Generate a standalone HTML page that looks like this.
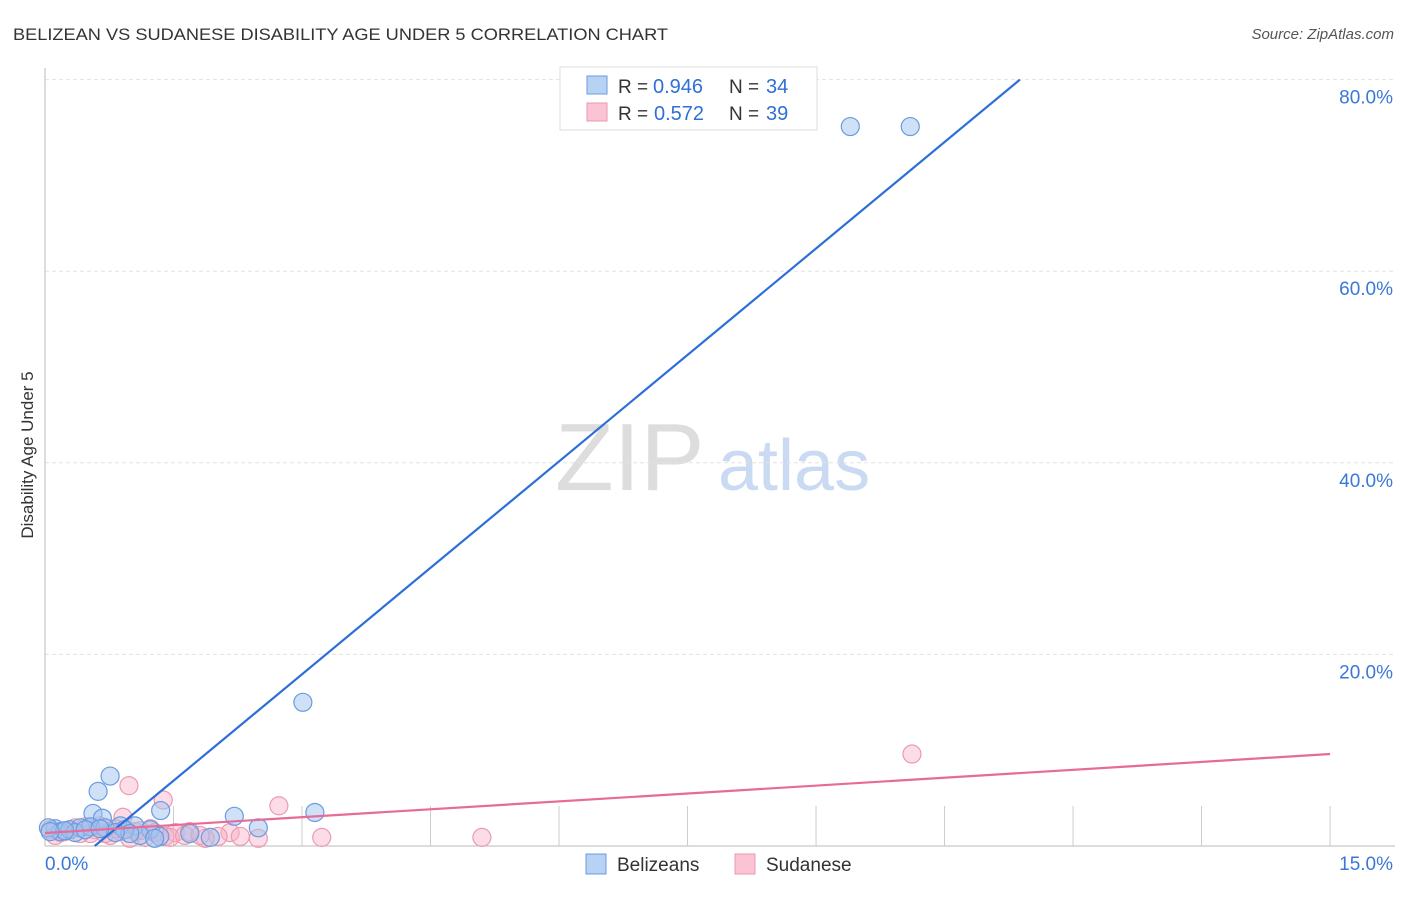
<!DOCTYPE html>
<html><head><meta charset="utf-8"><style>
body{margin:0;background:#fff;font-family:"Liberation Sans",sans-serif}
svg text{font-family:"Liberation Sans",sans-serif}
</style></head><body>
<svg width="1406" height="892">
<text x="13" y="40" font-size="17" fill="#333" textLength="655" lengthAdjust="spacingAndGlyphs">BELIZEAN VS SUDANESE DISABILITY AGE UNDER 5 CORRELATION CHART</text>
<text x="1394" y="39" font-size="15" fill="#555" font-style="italic" text-anchor="end">Source: ZipAtlas.com</text>
<text x="33" y="455" font-size="17" fill="#333" transform="rotate(-90 33 455)" text-anchor="middle">Disability Age Under 5</text>
<text x="555" y="490" font-size="96" fill="#ddd" font-family="Liberation Serif">ZIP</text>
<text x="718" y="490" font-size="72" fill="#c9daf2">atlas</text>
<g id="grid"></g>
<g id="marks"></g>
<g>
<rect x="560" y="67" width="257" height="63" fill="#fff" stroke="#ddd"/>
<rect x="587" y="76" width="20" height="18" fill="#b8d2f4" stroke="#6a9be0"/>
<rect x="587" y="103" width="20" height="18" fill="#fac4d4" stroke="#ec97b1"/>
<text x="618" y="93" font-size="19" fill="#333">R =</text>
<text x="653" y="93" font-size="20" fill="#2f6fd6">0.946</text>
<text x="729" y="93" font-size="19" fill="#333">N =</text>
<text x="766" y="93" font-size="20" fill="#2f6fd6">34</text>
<text x="618" y="120" font-size="19" fill="#333">R =</text>
<text x="654" y="120" font-size="20" fill="#2f6fd6">0.572</text>
<text x="729" y="120" font-size="19" fill="#333">N =</text>
<text x="766" y="120" font-size="20" fill="#2f6fd6">39</text>
</g>
<g>
<rect x="586" y="854" width="20" height="20" fill="#b8d2f4" stroke="#6a9be0"/>
<text x="617" y="871" font-size="19" fill="#333">Belizeans</text>
<rect x="735" y="854" width="20" height="20" fill="#fac4d4" stroke="#ec97b1"/>
<text x="766" y="871" font-size="19" fill="#333">Sudanese</text>
</g>
</svg>
<script>
const yTicks=[20,40,60,80];
const xTickVals=[0,1.5,3,4.5,6,7.5,9,10.5,12,13.5,15];
const blueX=[9.40,10.10,3.01,0.76,0.62,0.56,1.35,2.21,3.15,2.49,0.67,0.12,0.18,0.29,0.41,0.53,0.88,1.05,1.23,1.69,1.93,1.11,0.04,0.35,0.47,0.93,0.70,0.23,1.34,0.99,0.82,0.64,0.06,1.28];
const blueY=[75.1,75.1,15.0,7.3,5.7,3.4,3.7,3.1,3.5,1.9,2.9,1.8,1.5,1.7,1.9,2.0,2.1,2.1,1.7,1.3,0.9,1.1,1.9,1.4,1.7,1.7,1.9,1.6,1.0,1.3,1.4,1.8,1.5,0.8];
const pinkX=[10.12,2.73,1.38,0.98,0.91,3.23,5.10,2.49,2.16,2.02,1.69,1.52,1.23,1.17,0.76,0.58,0.47,0.29,0.18,0.06,0.64,0.88,1.05,1.40,1.87,2.28,0.12,0.35,0.53,0.70,0.82,1.11,1.28,1.46,1.63,1.81,0.23,0.41,0.99];
const pinkY=[9.6,4.2,4.8,6.3,3.0,0.9,0.9,0.8,1.4,1.0,1.5,1.4,1.8,0.9,1.1,1.7,2.0,1.7,1.4,1.7,2.1,1.5,1.5,1.0,0.8,1.0,1.1,1.9,1.3,1.3,1.8,1.6,1.4,0.9,1.1,1.1,1.5,1.3,0.8];
const blueLine=[[0.58,0],[11.38,80]];
const pinkLine=[[0,1.36],[15,9.6]];
const NS='http://www.w3.org/2000/svg';
const sx=v=>45+v*85.67, sy=v=>846-v*9.58;
function mk(t,a,p){const e=document.createElementNS(NS,t);for(const k in a)e.setAttribute(k,a[k]);p.appendChild(e);return e;}
const g=document.getElementById('grid'), m=document.getElementById('marks');
yTicks.forEach(v=>{
 const l=mk('line',{x1:45,x2:1395,y1:sy(v),y2:sy(v),stroke:'#e3e3e3','stroke-dasharray':'4,3'},g);
 
 
 const t=mk('text',{x:1393,y:sy(v)+24,'font-size':19,fill:'#3a78d8','text-anchor':'end'},g);t.textContent=v.toFixed(1)+'%';
 
 
});
mk('line',{x1:45,x2:45,y1:68,y2:846,stroke:'#bbb'},g);
mk('line',{x1:45,x2:1395,y1:846,y2:846,stroke:'#bbb'},g);
xTickVals.forEach(v=>{if(v>0){const l=mk('line',{x1:sx(v),x2:sx(v),y1:806,y2:846,stroke:'#ccc'},g);
 
 }});
const t0=mk('text',{x:45,y:870,'font-size':19,fill:'#3a78d8'},g);t0.textContent=xTickVals[0].toFixed(1)+'%';


const t1=mk('text',{x:1393,y:870,'font-size':19,fill:'#3a78d8','text-anchor':'end'},g);t1.textContent=xTickVals[10].toFixed(1)+'%';


pinkX.forEach((x,i)=>{const c=mk('circle',{cx:sx(x),cy:sy(pinkY[i]),r:9,fill:'rgba(248,178,200,0.45)',stroke:'#eb9ab2','stroke-width':1.2},m);
 
 });
blueX.forEach((x,i)=>{const c=mk('circle',{cx:sx(x),cy:sy(blueY[i]),r:9,fill:'rgba(160,196,240,0.5)',stroke:'#6b9be0','stroke-width':1.2},m);
 
 });
const bl=mk('line',{x1:sx(blueLine[0][0]),y1:sy(blueLine[0][1]),x2:sx(blueLine[1][0]),y2:sy(blueLine[1][1]),stroke:'#2c6fd8','stroke-width':2.2},m);


const pl=mk('line',{x1:sx(pinkLine[0][0]),y1:sy(pinkLine[0][1]),x2:sx(pinkLine[1][0]),y2:sy(pinkLine[1][1]),stroke:'#e86a98','stroke-width':2.2},m);


</script>
</body></html>
